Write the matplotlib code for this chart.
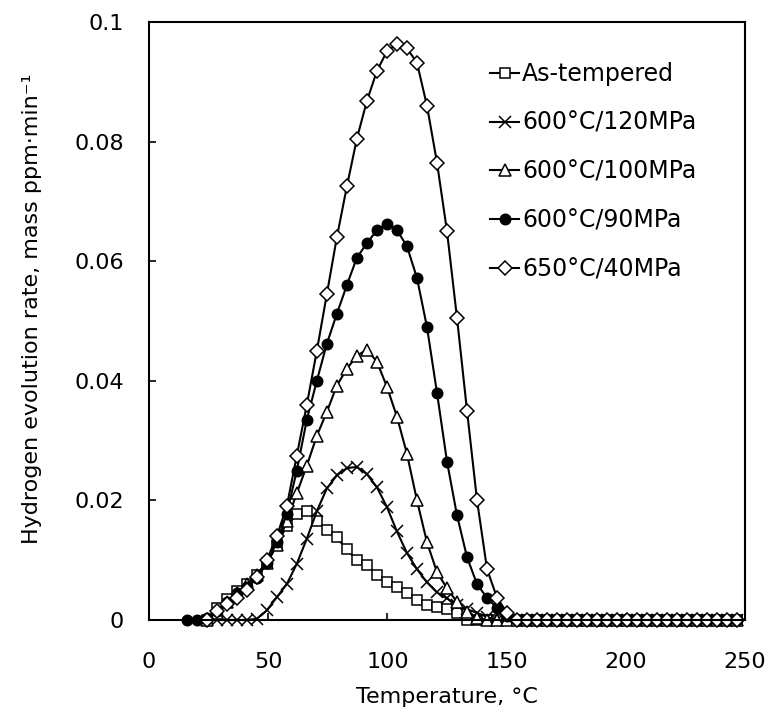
import numpy as np
import matplotlib
matplotlib.use('Agg')
import matplotlib.pyplot as plt

plt.rcParams['font.family'] = ['DejaVu Sans', 'Noto Sans CJK JP']

nan = np.nan

# temperature steps (deg C) shared by all specimens
temperature = [15.8, 20.0, 24.2, 28.4, 32.6, 36.8, 41.0, 45.2, 49.4, 53.6,
               57.8, 62.0, 66.2, 70.4, 74.6, 78.8, 83.0, 87.2, 91.4, 95.6,
               99.8, 104.0, 108.2, 112.4, 116.6, 120.8, 125.0, 129.2, 133.4, 137.6,
               141.8, 146.0, 150.2, 154.4, 158.6, 162.8, 167.0, 171.2, 175.4, 179.6,
               183.8, 188.0, 192.2, 196.4, 200.6, 204.8, 209.0, 213.2, 217.4, 221.6,
               225.8, 230.0, 234.2, 238.4, 242.6, 246.8]

as_tempered = [nan, nan, 0, 0.0020, 0.0035, 0.0048, 0.0060, 0.0075, 0.0095, 0.0125,
               0.0158, 0.0177, 0.0183, 0.0165, 0.0150, 0.0138, 0.0118, 0.0100, 0.0092, 0.0076,
               0.0063, 0.0056, 0.0045, 0.0033, 0.0025, 0.0022, 0.0019, 0.0012, 0, 0,
               0, 0, 0, 0, 0, 0, 0, 0, 0, 0,
               0, 0, 0, 0, 0, 0, 0, 0, 0, 0,
               0, 0, 0, 0, 0, 0]

c600_120 = [nan, nan, nan, 0, 0, 0, 0, 0.0002, 0.0016, 0.0038,
            0.0060, 0.0094, 0.0136, 0.0182, 0.0220, 0.0242, 0.0254, 0.0256, 0.0244, 0.0222,
            0.0189, 0.0148, 0.0112, 0.0085, 0.0063, 0.0046, 0.0036, 0.0025, 0.0018, 0.0012,
            0.0005, 0, 0, 0, 0, 0, 0, 0, 0, 0,
            0, 0, 0, 0, 0, 0, 0, 0, 0, 0,
            0, 0, 0, 0, 0, 0]

c600_100 = [nan, nan, 0, 0.0012, 0.0030, 0.0045, 0.0060, 0.0075, 0.0095, 0.0125,
            0.0165, 0.0212, 0.0258, 0.0308, 0.0348, 0.0392, 0.0420, 0.0442, 0.0452, 0.0432,
            0.0390, 0.0340, 0.0278, 0.0200, 0.0130, 0.0080, 0.0053, 0.0030, 0.0013, 0.0003,
            0, 0, 0, 0, 0, 0, 0, 0, 0, 0,
            0, 0, 0, 0, 0, 0, 0, 0, 0, 0,
            0, 0, 0, 0, 0, 0]

c600_90 = [0, 0, 0.0003, 0.0015, 0.0030, 0.0045, 0.0055, 0.0070, 0.0095, 0.0130,
           0.0178, 0.0250, 0.0335, 0.0400, 0.0462, 0.0512, 0.0560, 0.0606, 0.0630, 0.0652,
           0.0662, 0.0652, 0.0625, 0.0572, 0.0490, 0.0380, 0.0265, 0.0175, 0.0105, 0.0060,
           0.0037, 0.0020, 0.0007, 0, 0, 0, 0, 0, 0, 0,
           0, 0, 0, 0, 0, 0, 0, 0, 0, 0,
           0, 0, 0, 0, 0, 0]

c650_40 = [nan, nan, 0, 0.0015, 0.0027, 0.0037, 0.0050, 0.0072, 0.0100, 0.0140,
           0.0190, 0.0275, 0.0360, 0.0450, 0.0545, 0.0640, 0.0725, 0.0805, 0.0868, 0.0918,
           0.0951, 0.0963, 0.0956, 0.0932, 0.0860, 0.0765, 0.0650, 0.0505, 0.0350, 0.0200,
           0.0085, 0.0037, 0.0012, 0, 0, 0, 0, 0, 0, 0,
           0, 0, 0, 0, 0, 0, 0, 0, 0, 0,
           0, 0, 0, 0, 0, 0]

labels = ['As-tempered', '600\u00b0C/120MPa', '600\u00b0C/100MPa',
          '600\u00b0C/90MPa', '650\u00b0C/40MPa']
series = [as_tempered, c600_120, c600_100, c600_90, c650_40]
markers = ['s', 'x', '^', 'o', 'D']
msizes = [7, 8, 8, 7.5, 7]
faces = ['white', 'black', 'white', 'black', 'white']

fig = plt.figure(figsize=(7.73, 7.18), dpi=100)
ax = fig.add_axes([149 / 773, 1 - 620 / 718, 596 / 773, 598 / 718])

for vals, lab, m, ms, fc in zip(series, labels, markers, msizes, faces):
    ax.plot(temperature, vals, color='black', lw=1.5, marker=m, ms=ms,
            mfc=fc, mec='black', mew=1.1, label=lab, clip_on=False)

ax.set_xlim(0, 250)
ax.set_ylim(0, 0.1)
ax.set_xticks([0, 50, 100, 150, 200, 250])
ax.set_yticks([0, 0.02, 0.04, 0.06, 0.08, 0.1])
ax.set_yticklabels(['0', '0.02', '0.04', '0.06', '0.08', '0.1'])
ax.tick_params(direction='in', length=5, width=1.2, labelsize=16, color='black')
ax.tick_params(axis='y', pad=18)
ax.tick_params(axis='x', pad=23)
for sp in ax.spines.values():
    sp.set_linewidth(1.5)

ax.set_xlabel('Temperature, \u00b0C', fontsize=16)
ax.set_ylabel('Hydrogen evolution rate, mass ppm\u00b7min\u207b\u00b9', fontsize=16)
ax.xaxis.set_label_coords(0.5, -0.112)
ax.yaxis.set_label_coords(-0.18, 0.52)

ax.legend(loc='upper left', bbox_to_anchor=(0.572, 0.933), frameon=False,
          fontsize=17, handlelength=1.25, handletextpad=0.12, labelspacing=1.05,
          borderaxespad=0, borderpad=0)

fig.savefig('out.png', dpi=100)
